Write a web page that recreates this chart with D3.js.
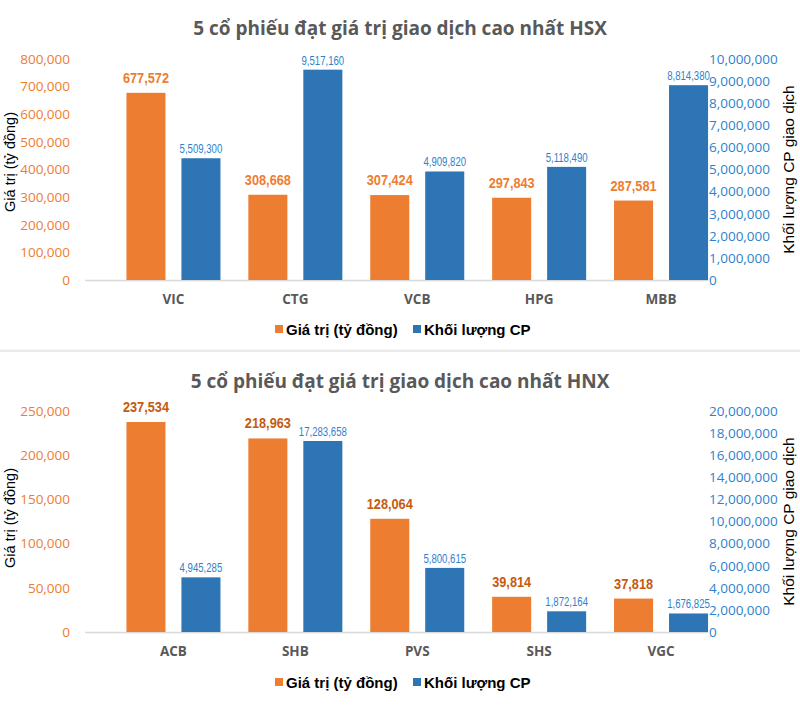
<!DOCTYPE html>
<html><head><meta charset="utf-8">
<script src="https://cdn.jsdelivr.net/npm/d3@7"></script>
<style>body{margin:0;background:#fff}svg{display:block}</style>
</head><body>
<svg id="c" width="800" height="728"></svg>
<script>
// ---- data ----
const hsxTitle = "5 cổ phiếu đạt giá trị giao dịch cao nhất HSX";
const hsxCategories = ["VIC", "CTG", "VCB", "HPG", "MBB"];
const hsxValue = [677572, 308668, 307424, 297843, 287581];
const hsxVolume = [5509300, 9517160, 4909820, 5118490, 8814380];
const hsxLeftTicks = [0, 100000, 200000, 300000, 400000, 500000, 600000, 700000, 800000];
const hsxRightTicks = [0, 1000000, 2000000, 3000000, 4000000, 5000000, 6000000, 7000000, 8000000, 9000000, 10000000];

const hnxTitle = "5 cổ phiếu đạt giá trị giao dịch cao nhất HNX";
const hnxCategories = ["ACB", "SHB", "PVS", "SHS", "VGC"];
const hnxValue = [237534, 218963, 128064, 39814, 37818];
const hnxVolume = [4945285, 17283658, 5800615, 1872164, 1676825];
const hnxLeftTicks = [0, 50000, 100000, 150000, 200000, 250000];
const hnxRightTicks = [0, 2000000, 4000000, 6000000, 8000000, 10000000, 12000000, 14000000, 16000000, 18000000, 20000000];

const seriesNames = ["Giá trị (tỷ đồng)", "Khối lượng CP"];
const leftAxisTitle = "Giá trị (tỷ đồng)";
const rightAxisTitle = "Khối lượng CP giao dịch";

// ---- drawing ----
const svg = d3.select("#c");
const ORANGE = "#ED7D31", BLUE = "#2E75B6";
const fmt = d3.format(",");

svg.append("rect").attr("x", 0).attr("y", 349.5).attr("width", 800).attr("height", 2.5).attr("fill", "#EBEBEB");

function drawChart(g, o) {
  const yBase = o.yBase, yTop = o.yTop;
  const yL = d3.scaleLinear().domain([0, o.leftTicks[o.leftTicks.length - 1]]).range([yBase, yTop]);
  const yR = d3.scaleLinear().domain([0, o.rightTicks[o.rightTicks.length - 1]]).range([yBase, yTop]);
  const x0 = d3.scaleBand().domain(o.cats).range([112.5, 722]);
  const c = x0.bandwidth() / 2;
  const x1 = d3.scaleBand().domain([0, 1]).range([c - 47, c + 47]).paddingInner(0.29);

  // title
  g.append("text").attr("x", 400).attr("y", o.titleY).attr("text-anchor", "middle")
    .attr("font-family", "Open Sans").attr("font-weight", "bold").attr("font-size", 19)
    .attr("fill", "#595959").text(o.title);

  // baseline
  g.append("line").attr("x1", 85).attr("x2", 708).attr("y1", yBase + 0.5).attr("y2", yBase + 0.5)
    .attr("stroke", "#D9D9D9").attr("stroke-width", 1.5);

  // left axis
  const la = g.append("g").attr("transform", "translate(74,0)")
    .call(d3.axisLeft(yL).tickValues(o.leftTicks).tickFormat(fmt).tickSize(0).tickPadding(4));
  la.select(".domain").remove();
  la.selectAll("text").attr("font-family", "Open Sans").attr("font-size", 13.5).attr("fill", ORANGE);

  // right axis
  const ra = g.append("g").attr("transform", "translate(705,0)")
    .call(d3.axisRight(yR).tickValues(o.rightTicks).tickFormat(fmt).tickSize(0).tickPadding(4));
  ra.select(".domain").remove();
  ra.selectAll("text").attr("font-family", "Open Sans").attr("font-size", 13.5).attr("fill", "#2E82CC");

  // bars
  const grp = g.selectAll(".cat").data(o.cats).join("g").attr("transform", d => `translate(${x0(d)},0)`);
  grp.append("rect").attr("x", x1(0)).attr("width", x1.bandwidth())
    .attr("y", (d, i) => yL(o.value[i])).attr("height", (d, i) => yBase - yL(o.value[i]))
    .attr("fill", ORANGE);
  grp.append("rect").attr("x", x1(1)).attr("width", x1.bandwidth())
    .attr("y", (d, i) => yR(o.volume[i])).attr("height", (d, i) => yBase - yR(o.volume[i]))
    .attr("fill", BLUE);

  // value labels (condensed look)
  grp.append("text")
    .attr("transform", (d, i) => `translate(${x1(0) + x1.bandwidth() / 2},${yL(o.value[i]) - 10}) scale(0.85,1)`)
    .attr("text-anchor", "middle").attr("font-family", "Liberation Sans, Arial, sans-serif")
    .attr("font-weight", "bold").attr("font-size", 15).attr("fill", o.valColor)
    .text((d, i) => fmt(o.value[i]));
  grp.append("text")
    .attr("transform", (d, i) => `translate(${x1(1) + x1.bandwidth() / 2},${yR(o.volume[i]) - 5}) scale(0.8,1)`)
    .attr("text-anchor", "middle").attr("font-family", "Liberation Sans, Arial, sans-serif")
    .attr("font-size", 12).attr("fill", "#2E82CC")
    .text((d, i) => fmt(o.volume[i]));

  // category labels
  grp.append("text").attr("x", c).attr("y", yBase + 24).attr("text-anchor", "middle")
    .attr("font-family", "Open Sans").attr("font-weight", "bold").attr("font-size", 13.5)
    .attr("fill", "#595959").text(d => d);

  // axis titles
  g.append("text").attr("transform", `translate(15,${o.leftTitleY}) rotate(-90)`).attr("text-anchor", "middle")
    .attr("font-family", "Liberation Sans").attr("font-size", 14.5).attr("fill", "#000").text(leftAxisTitle);
  g.append("text").attr("transform", `translate(794,${(yBase + yTop) / 2}) rotate(-90)`).attr("text-anchor", "middle")
    .attr("font-family", "Liberation Sans").attr("font-size", 15.5).attr("fill", "#000").text(rightAxisTitle);

  // legend
  const lg = g.append("g").attr("transform", `translate(0,${o.legendY})`);
  const items = [{x: 275, c: ORANGE, t: seriesNames[0]}, {x: 413, c: BLUE, t: seriesNames[1]}];
  items.forEach(it => {
    lg.append("rect").attr("x", it.x).attr("y", -5).attr("width", 8).attr("height", 8).attr("fill", it.c);
    lg.append("text").attr("x", it.x + 11).attr("y", 4.5).attr("font-family", "Liberation Sans")
      .attr("font-weight", "bold").attr("font-size", 15).attr("fill", "#000").text(it.t);
  });
}

drawChart(svg.append("g"), {
  title: hsxTitle, titleY: 35, cats: hsxCategories, value: hsxValue, volume: hsxVolume,
  leftTicks: hsxLeftTicks, rightTicks: hsxRightTicks, yBase: 280, yTop: 59,
  valColor: ORANGE, leftTitleY: 162, legendY: 330
});
drawChart(svg.append("g"), {
  title: hnxTitle, titleY: 388, cats: hnxCategories, value: hnxValue, volume: hnxVolume,
  leftTicks: hnxLeftTicks, rightTicks: hnxRightTicks, yBase: 632, yTop: 411,
  valColor: "#C55A11", leftTitleY: 518, legendY: 683
});
</script>
</body></html>
